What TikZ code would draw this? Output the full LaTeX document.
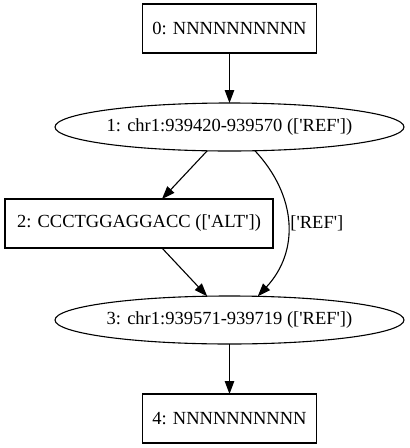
\documentclass[tikz,border=0pt]{standalone}
\usepackage{fontspec}
\setmainfont{Liberation Serif}[Ligatures=TeXOff]
\usetikzlibrary{shapes.geometric,arrows.meta}
\tikzset{
	box/.style={draw, line width=1.1pt, minimum width=174pt, minimum height=49pt, inner sep=0pt, outer sep=0pt},
	oval/.style={draw, ellipse, line width=1.1pt, minimum width=349pt, minimum height=48pt, inner sep=0pt, outer sep=0pt},
	lab/.style={font=\fontsize{18.5}{22}\selectfont, inner sep=2pt},
	edge/.style={-{Triangle[length=13pt,width=9.5pt]}, line width=1.1pt}
}
\begin{document}
\begin{tikzpicture}[x=1pt,y=-1pt]
				\useasboundingbox (0,0) rectangle (410,448);
				% nodes
				\node[box,lab] (n0) at (229.5,28.5) {0: NNNNNNNNNN};
				\node[oval] (n1) at (229.5,127) {};
				\node[lab] (n1t) at (n1) {1: chr1:939420-939570 (['REF'])};
				\node[box,lab,minimum width=268pt] (n2) at (139,223.5) {2: CCCTGGAGGACC (['ALT'])};
				\node[oval] (n3) at (229.5,320) {};
				\node[lab] (n3t) at (n3) {3: chr1:939571-939719 (['REF'])};
				\node[box,lab] (n4) at (229.5,418.5) {4: NNNNNNNNNN};
				% edges
				\draw[edge] (n0) -- (n1);
				\draw[edge] (n1) -- (n2);
				\draw[edge] (n2) -- (n3);
				\draw[edge] (n1.-43) .. controls +(42,45) and +(42,-45) .. (n3.40)
					node[lab,pos=0.5,right] (lref) {['REF']};
				\draw[edge] (n3) -- (n4);
			\end{tikzpicture}
\end{document}
